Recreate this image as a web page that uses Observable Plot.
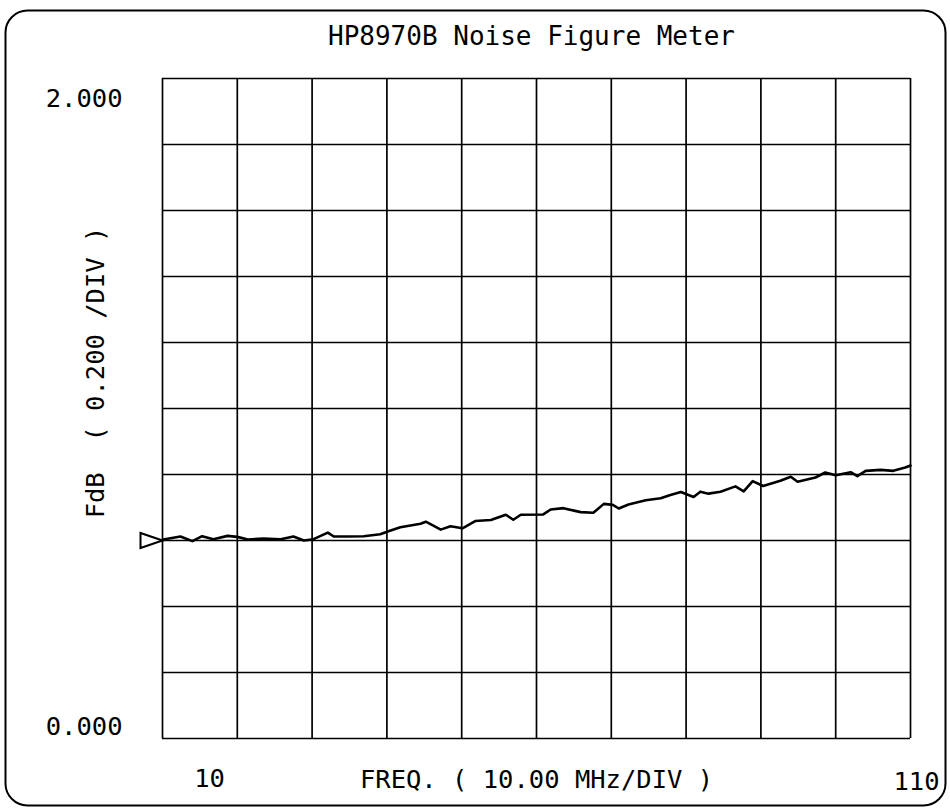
<!DOCTYPE html>
<html>
<head>
<meta charset="utf-8">
<script src="https://cdn.jsdelivr.net/npm/d3@7"></script>
<script src="https://cdn.jsdelivr.net/npm/@observablehq/plot@0.6"></script>
<style>
  html, body { margin: 0; padding: 0; background: #fff; overflow: hidden; }
</style>
</head>
<body>
<div id="chart"></div>
<script>
// Measured trace: frequency (MHz) and noise figure (dB)
const freq = [10.0, 10.1, 12.4, 14.0, 15.3, 16.8, 18.7, 20.0, 21.4, 23.5, 25.8, 27.5, 28.9, 30.2, 32.1, 32.9, 34.7, 36.9, 39.1, 40.5, 41.8, 44.5, 45.2, 47.2, 48.5, 50.1, 51.8, 53.9, 55.9, 56.9, 57.9, 60.9, 61.9, 63.6, 65.9, 67.6, 69.0, 70.2, 71.0, 72.3, 74.6, 76.6, 77.9, 79.3, 81.0, 81.9, 83.0, 84.6, 86.6, 87.7, 88.9, 90.3, 92.6, 94.0, 94.9, 97.3, 98.6, 100.0, 102.0, 102.9, 104.0, 106.0, 107.7, 109.3, 110.0];
const fdb  = [0.600, 0.603, 0.612, 0.598, 0.613, 0.604, 0.614, 0.611, 0.603, 0.606, 0.604, 0.612, 0.600, 0.604, 0.624, 0.612, 0.612, 0.613, 0.619, 0.630, 0.640, 0.651, 0.657, 0.633, 0.643, 0.637, 0.659, 0.662, 0.678, 0.663, 0.678, 0.679, 0.694, 0.698, 0.686, 0.684, 0.711, 0.708, 0.697, 0.709, 0.722, 0.728, 0.738, 0.747, 0.732, 0.748, 0.742, 0.748, 0.764, 0.749, 0.780, 0.765, 0.781, 0.793, 0.778, 0.791, 0.806, 0.798, 0.807, 0.795, 0.811, 0.814, 0.811, 0.821, 0.827];

// Grid divisions
const xGrid = [10, 20, 30, 40, 50, 60, 70, 80, 90, 100, 110];
const yGrid = [0, 0.2, 0.4, 0.6, 0.8, 1.0, 1.2, 1.4, 1.6, 1.8, 2.0];

// Tick labels and texts
const yTopTick = [2];
const yTopLabel = ["2.000"];
const yBottomTick = [0];
const yBottomLabel = ["0.000"];
const xLeftTick = [10];
const xLeftLabel = ["10"];
const xRightTick = [110];
const xRightLabel = ["110"];
const titleText = ["HP8970B Noise Figure Meter"];
const xAxisText = ["FREQ. ( 10.00 MHz/DIV )"];
const yAxisText = ["FdB  ( 0.200 /DIV )"];

const trace = freq.map((f, i) => ({f, v: fdb[i]}));
const marker = [trace[0]];

const rightTriangle = {
  draw(ctx) {
    ctx.moveTo(0, 0);
    ctx.lineTo(-22, -7.5);
    ctx.lineTo(-22, 7.5);
    ctx.closePath();
  }
};

const FS = 25.5;

const chart = Plot.plot({
  width: 950,
  height: 812,
  marginLeft: 162,
  marginRight: 40,
  marginTop: 78,
  marginBottom: 74,
  style: {fontFamily: "'DejaVu Sans Mono', monospace", background: "#fff", color: "#000"},
  x: {domain: [10, 110], axis: null},
  y: {domain: [0, 2], axis: null},
  marks: [
    Plot.frame({insetLeft: -157, insetRight: -35, insetTop: -68, insetBottom: -67, rx: 22, stroke: "#000", strokeWidth: 2}),
    Plot.ruleX(xGrid, {x: d => d, stroke: "#000", strokeWidth: 1.7}),
    Plot.ruleY(yGrid, {y: d => d, stroke: "#000", strokeWidth: 1.7}),
    Plot.line(trace, {x: "f", y: "v", stroke: "#000", strokeWidth: 2.6, strokeLinejoin: "round"}),
    Plot.dot(marker, {x: "f", y: "v", symbol: rightTriangle, r: 8, stroke: "#000", strokeWidth: 2, fill: "#fff"}),
    Plot.text(titleText, {frameAnchor: "top", text: d => d, lineAnchor: "bottom", dy: -34, dx: -5, fontSize: 26}),
    Plot.text(yTopTick, {y: d => d, frameAnchor: "left", text: (d, i) => yTopLabel[i], textAnchor: "end", lineAnchor: "top", dx: -40, dy: 10, fontSize: FS}),
    Plot.text(yBottomTick, {y: d => d, frameAnchor: "left", text: (d, i) => yBottomLabel[i], textAnchor: "end", lineAnchor: "bottom", dx: -40, dy: -4, fontSize: FS}),
    Plot.text(xLeftTick, {x: d => d, frameAnchor: "bottom", text: (d, i) => xLeftLabel[i], lineAnchor: "bottom", dx: 47, dy: 48, fontSize: FS}),
    Plot.text(xRightTick, {x: d => d, frameAnchor: "bottom", text: (d, i) => xRightLabel[i], lineAnchor: "bottom", dx: 6, dy: 51, fontSize: FS}),
    Plot.text(xAxisText, {frameAnchor: "bottom", text: d => d, lineAnchor: "bottom", dy: 49, fontSize: FS}),
    Plot.text(yAxisText, {frameAnchor: "left", text: d => d, rotate: -90, textAnchor: "middle", lineAnchor: "middle", dx: -67, dy: -36, fontSize: FS})
  ]
});

document.getElementById("chart").appendChild(chart);
</script>
</body>
</html>
